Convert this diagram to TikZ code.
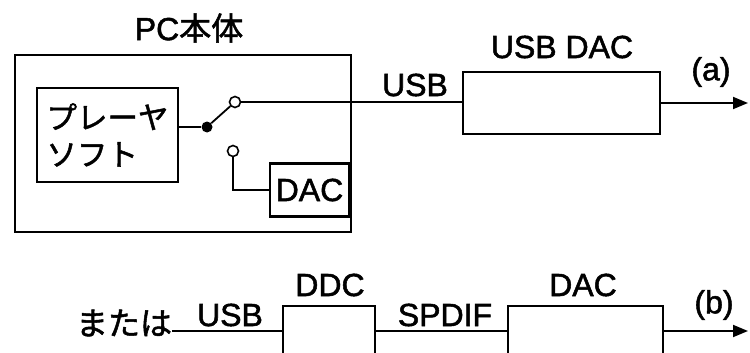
\documentclass[tikz,border=0pt]{standalone}
\usepackage{fontspec}
\setmainfont{Liberation Sans}[FakeBold=1.6]
\newfontfamily\jp{Noto Sans CJK JP}[FakeBold=1.6]
\usetikzlibrary{arrows.meta}

\begin{document}
\begin{tikzpicture}[x=1pt, y=-1pt, font=\fontsize{32}{37}\selectfont,
    blk/.style={draw, line width=2.2pt, inner sep=0pt},
    wire/.style={line width=1.8pt},
    port/.style={circle, draw, line width=1.6pt, fill=white, minimum size=11pt, inner sep=0pt},
    lbl/.style={inner sep=0pt},
    outarrow/.style={wire, -{Triangle[length=15pt, width=12pt]}}]
  \useasboundingbox (0,0) rectangle (750,353);
  \node[lbl] (pctitle) at (189,28) {PC{\jp 本体}};
  \node[blk, line width=2.6pt, minimum width=336pt, minimum height=177pt] (pc) at (183,143.5) {};
  \node[blk, minimum width=141pt, minimum height=94pt, align=left, font=\jp\fontsize{30.5}{37}\selectfont] (player) at (107.5,135) {プレーヤ\\ソフト};
  \node[circle, fill, minimum size=11pt, inner sep=0pt] (sw) at (207,127) {};
  \node[port] (up) at (235,102) {};
  \node[port] (dn) at (233,151) {};
  \node[blk, minimum width=79pt, minimum height=53pt] (dac) at (309.5,190) {DAC};
  \node[lbl] (usba) at (415,85) {USB};
  \node[blk, minimum width=197pt, minimum height=62pt] (usbdac) at (561.5,103) {};
  \node[lbl] (usbdaclbl) at (562,47) {USB DAC};
  \node[lbl] (taga) at (711,72) {(a)};
  \coordinate (outa) at (748,103);
  \draw[wire] (sw -| player.east) -- (sw);
  \draw[wire] (sw) -- (up);
  \draw[wire] (up) -- (up -| usbdac.west);
  \draw[wire] (dn) |- (dac.west);
  \draw[outarrow] (usbdac.east) -- (outa);

  \node[lbl, font=\jp\fontsize{32}{37}\selectfont] (alt) at (124,323) {または};
  \node[lbl] (usbb) at (230,315) {USB};
  \node[blk, minimum width=92pt, minimum height=50pt] (ddc) at (329,331) {};
  \node[lbl] (ddclbl) at (330,285) {DDC};
  \node[lbl] (spdif) at (445,315) {SPDIF};
  \node[blk, minimum width=155pt, minimum height=50pt] (dacb) at (585.5,331) {};
  \node[lbl] (dacblbl) at (583,285) {DAC};
  \node[lbl] (tagb) at (714,305) {(b)};
  \coordinate (outb) at (748,331);
  \draw[wire] (alt.east |- ddc.west) -- (ddc.west);
  \draw[wire] (ddc.east) -- (dacb.west);
  \draw[outarrow] (dacb.east) -- (outb);
\end{tikzpicture}
\end{document}
